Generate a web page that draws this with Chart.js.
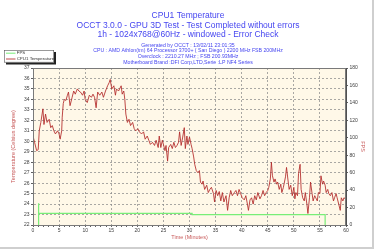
<!DOCTYPE html>
<html>
<head>
<meta charset="utf-8">
<script src="https://cdn.jsdelivr.net/npm/chart.js@4.4.0/dist/chart.umd.min.js"></script>
<style>
    html, body { margin: 0 ; padding: 0 ; background: #ffffff ; }
    #wrap { width: 375px ; height: 250px ; }
</style>
</head>
<body>
<div id="wrap"><canvas id="occtChart" width="375" height="250"></canvas></div>
<script>
// ---------------- Chart data ------------------------------------------------
const TITLE_LINES = [
    "CPU1 Temperature",
    "OCCT 3.0.0 - GPU 3D Test - Test Completed without errors",
    "1h - 1024x768@60Hz - windowed - Error Check"
] ;
const INFO_LINES = [
    "Generated by OCCT : 13/02/11 23:01:35",
    "CPU : AMD Athlon(tm) 64 Processor 3700+ ( San Diego ) 2200 MHz FSB 200MHz",
    "Overclock : 2210.27 MHz ; FSB 200.93MHz",
    "Motherboard Brand :DFI Corp,LTD,Serie :LP NF4 Series"
] ;
const SERIES_NAMES = [ "FPS", "CPU1 Temperature" ] ;

const tempTimes = [
    0, 0.3, 0.7, 1.0, 1.2, 1.5, 1.9, 2.1, 2.4, 2.7, 3.1, 3.4, 3.7, 4.0, 4.3, 4.7, 5.0, 5.2, 5.5, 5.6,
    5.8, 6.0, 6.3, 6.6, 6.8, 7.1, 7.5, 7.8, 8.1, 8.5, 8.8, 9.1, 9.5, 9.8, 10.0, 10.4, 10.8, 11.2, 11.5, 11.8,
    12.1, 12.4, 12.8, 13.2, 13.5, 13.9, 14.3, 14.6, 14.8, 15.1, 15.5, 15.8, 16.0, 16.4, 16.9, 17.1, 17.4, 17.6, 17.8, 18.1,
    18.4, 18.7, 19.1, 19.4, 19.7, 20.1, 20.4, 20.8, 21.2, 21.5, 21.9, 22.2, 22.5, 22.9, 23.3, 23.6, 24.0, 24.2, 24.5, 24.8,
    25.0, 25.3, 25.5, 25.8, 26.0, 26.4, 26.7, 27.0, 27.3, 27.6, 27.9, 28.1, 28.4, 28.7, 29.0, 29.2, 29.5, 29.7, 30.0, 30.3,
    30.5, 30.8, 31.0, 31.3, 31.6, 31.9, 32.1, 32.4, 32.6, 32.9, 33.3, 33.6, 33.9, 34.2, 34.6, 34.8, 35.1, 35.4, 35.7, 36.0,
    36.3, 36.6, 37.0, 37.3, 37.6, 37.9, 38.2, 38.6, 38.9, 39.2, 39.5, 39.8, 40.1, 40.5, 40.8, 41.1, 41.3, 41.6, 41.9, 42.2,
    42.5, 42.8, 43.1, 43.5, 43.8, 44.1, 44.4, 44.7, 45.0, 45.2, 45.5, 45.7, 45.9, 46.2, 46.4, 46.7, 46.9, 47.2, 47.5, 47.7,
    48.0, 48.4, 48.6, 48.9, 49.1, 49.4, 49.7, 50.0, 50.2, 50.4, 50.7, 50.9, 51.2, 51.4, 51.7, 52.0, 52.2, 52.5, 52.7, 53.0,
    53.2, 53.5, 53.7, 54.0, 54.2, 54.5, 54.7, 55.0, 55.2, 55.5, 55.7, 56.0, 56.2, 56.5, 56.7, 57.0, 57.3, 57.6, 57.8, 58.1,
    58.3, 58.6, 58.9, 59.1, 59.4, 59.6, 59.9
] ;
const tempValues = [
    30.5, 29.9, 29.1, 29.2, 31.0, 31.8, 33.1, 31.6, 32.6, 31.8, 32.1, 31.3, 31.5, 31.0, 30.7, 31.0, 30.7, 30.2, 31.0, 32.3,
    33.6, 34.0, 33.9, 34.4, 34.7, 33.4, 34.2, 34.8, 34.5, 35.0, 34.8, 34.7, 34.4, 34.8, 34.0, 33.7, 34.4, 34.2, 34.5, 34.2,
    33.2, 34.7, 34.4, 34.7, 34.2, 34.8, 35.3, 35.6, 35.9, 35.0, 35.3, 34.4, 35.0, 34.8, 35.3, 34.5, 34.8, 34.0, 32.6, 31.8,
    32.1, 31.5, 31.8, 31.2, 31.0, 31.2, 30.9, 30.7, 30.9, 30.2, 30.5, 30.1, 29.7, 29.9, 29.6, 30.1, 29.4, 30.5, 29.4, 30.1,
    29.7, 29.1, 29.6, 28.1, 29.4, 29.7, 29.3, 29.9, 29.4, 29.6, 29.9, 30.9, 29.6, 30.4, 31.3, 29.3, 30.5, 29.7, 30.4, 29.7,
    29.3, 28.5, 27.8, 27.2, 27.0, 27.2, 26.1, 25.9, 26.2, 25.4, 25.8, 25.1, 25.4, 25.6, 25.0, 24.2, 25.3, 24.8, 25.2, 24.3,
    25.1, 24.2, 24.8, 23.4, 24.6, 25.3, 24.8, 25.1, 25.3, 24.8, 25.4, 25.0, 24.6, 24.4, 24.8, 24.0, 23.4, 24.4, 24.6, 24.0,
    24.8, 24.4, 25.1, 24.5, 24.8, 25.3, 24.8, 25.1, 25.3, 25.6, 26.4, 28.0, 26.7, 26.1, 26.4, 25.9, 26.1, 25.4, 25.9, 25.1,
    25.6, 26.6, 27.5, 26.2, 25.4, 25.8, 24.8, 25.6, 24.5, 25.1, 24.8, 26.9, 27.8, 25.4, 24.6, 24.3, 25.1, 24.0, 23.1, 24.6,
    26.1, 25.0, 24.3, 24.8, 24.6, 24.3, 25.1, 25.0, 26.7, 25.9, 26.2, 25.8, 25.1, 25.4, 25.0, 24.8, 25.1, 24.3, 24.6, 25.0,
    24.6, 24.0, 23.4, 24.6, 24.3, 24.6, 24.5
] ;

const fpsTimes  = [ 1.0, 1.0, 1.15, 30.5, 30.5, 56.0, 56.0 ] ;
const fpsValues = [ 0, 25, 13.4, 13.4, 11.8, 11.8, 0 ] ;

// ---------------- Style constants -------------------------------------------
const BLUE     = '#4646f0' ;
const AXIS_RED = '#c85a5a' ;
const TICK_CLR = '#404040' ;
const GRID_CLR = 'rgba(140,140,140,0.75)' ;
const PLOT_BG  = '#fff8e8' ;
const TEMP_CLR = 'rgba(178,40,40,0.85)' ;
const FPS_CLR  = '#78ee78' ;
const FONT     = "'Liberation Sans', Arial, sans-serif" ;

function toPoints( xs, ys ) {
    var pts = [] ;
    for( var i=0; i<xs.length; i++ ) {
        pts.push( { x: xs[i], y: ys[i] } ) ;
    }
    return pts ;
}

// ---------------- Plugins ---------------------------------------------------
const plotBackground = {
    id: 'plotBackground',
    beforeDraw( chart ) {
        const { ctx, chartArea: a } = chart ;
        ctx.save() ;
        ctx.fillStyle = PLOT_BG ;
        ctx.fillRect( a.left, a.top, a.right - a.left, a.bottom - a.top ) ;
        ctx.restore() ;
    },
    afterDraw( chart ) {
        const { ctx, chartArea: a } = chart ;
        ctx.save() ;
        ctx.strokeStyle = '#7a7a7a' ;
        ctx.lineWidth = 1 ;
        ctx.strokeRect( a.left + 0.5, a.top + 0.5, a.right - a.left - 1, a.bottom - a.top ) ;

        // outer frame (right and bottom edges only)
        ctx.strokeStyle = '#cfcfcf' ;
        ctx.lineWidth = 2 ;
        ctx.beginPath() ;
        ctx.moveTo( 373, 0 ) ;
        ctx.lineTo( 373, 248 ) ;
        ctx.lineTo( 0, 248 ) ;
        ctx.stroke() ;
        ctx.restore() ;
    }
} ;

const headerText = {
    id: 'headerText',
    afterDraw( chart ) {
        const ctx = chart.ctx ;
        const cx = 188 ;
        ctx.save() ;
        ctx.fillStyle = BLUE ;
        ctx.textAlign = 'center' ;
        ctx.textBaseline = 'middle' ;

        ctx.font = "8.5px " + FONT ;
        const titleY = [ 16, 25.5, 35 ] ;
        TITLE_LINES.forEach( function( line, i ) { ctx.fillText( line, cx, titleY[i] ) ; } ) ;

        ctx.font = "5.2px " + FONT ;
        const infoY = [ 45.3, 51, 56.7, 62.3 ] ;
        INFO_LINES.forEach( function( line, i ) { ctx.fillText( line, cx, infoY[i] ) ; } ) ;

        // legend box with its shadow
        ctx.fillStyle = '#222222' ;
        ctx.fillRect( 6, 52, 50, 12.5 ) ;
        ctx.fillStyle = '#ffffff' ;
        ctx.fillRect( 4, 50, 50, 12.5 ) ;
        ctx.strokeStyle = '#555555' ;
        ctx.lineWidth = 0.6 ;
        ctx.strokeRect( 4.3, 50.3, 49.4, 11.9 ) ;

        const legendY = [ 53.2, 59 ] ;
        const legendClr = [ FPS_CLR, TEMP_CLR ] ;
        ctx.font = "4.4px " + FONT ;
        ctx.textAlign = 'left' ;
        SERIES_NAMES.forEach( function( name, i ) {
            ctx.strokeStyle = legendClr[i] ;
            ctx.lineWidth = 1 ;
            ctx.beginPath() ;
            ctx.moveTo( 6, legendY[i] ) ;
            ctx.lineTo( 15.5, legendY[i] ) ;
            ctx.stroke() ;
            ctx.fillStyle = '#333333' ;
            ctx.fillText( name, 16.7, legendY[i] ) ;
        } ) ;
        ctx.restore() ;
    }
} ;

// ---------------- Chart -----------------------------------------------------
function getScaleOptions() {
    return {
        x : {
            type: 'linear',
            min: 0,
            max: 60,
            afterFit: function( scale ) { scale.height = 23 ; },
            border: { color: '#505050', width: 1, dash: [ 2, 2 ] },
            grid: {
                color: function( c ) { return ( c.tick && c.tick.value % 5 === 0 ) ? GRID_CLR : 'rgba(0,0,0,0)' ; },
                tickColor: '#606060',
                tickLength: 2,
                lineWidth: 1
            },
            ticks: {
                stepSize: 1,
                autoSkip: false,
                maxRotation: 0,
                padding: 1,
                color: TICK_CLR,
                font: { family: FONT, size: 5 },
                callback: function( value ) { return value % 5 === 0 ? '' + value : '' ; }
            },
            title: {
                display: true,
                text: 'Time (Minutes)',
                color: AXIS_RED,
                font: { family: FONT, size: 5.5 },
                padding: { top: 0, bottom: 7.5 }
            }
        },
        y : {
            position: 'left',
            min: 22,
            max: 37,
            afterFit: function( scale ) { scale.width = 33 ; },
            border: { color: '#505050', width: 1, dash: [ 2, 2 ] },
            grid: { color: GRID_CLR, tickColor: '#606060', tickLength: 2, lineWidth: 1 },
            ticks: {
                stepSize: 1,
                padding: 1.5,
                color: TICK_CLR,
                font: { family: FONT, size: 5 }
            },
            title: {
                display: true,
                text: 'Temperature (Celsius degree)',
                color: AXIS_RED,
                font: { family: FONT, size: 5.5 },
                padding: { top: 10.5, bottom: 0 }
            }
        },
        y2 : {
            position: 'right',
            min: 0,
            max: 180,
            afterFit: function( scale ) { scale.width = 27 ; },
            border: { color: '#505050', width: 1 },
            grid: { drawOnChartArea: false, tickColor: '#606060', tickLength: 2 },
            ticks: {
                stepSize: 10,
                padding: 1.5,
                color: TICK_CLR,
                font: { family: FONT, size: 5 }
            },
            title: {
                display: true,
                text: 'FPS',
                color: AXIS_RED,
                font: { family: FONT, size: 5.5 },
                padding: { top: 7.5, bottom: 0 }
            }
        }
    } ;
}

new Chart( document.getElementById( 'occtChart' ), {
    type: 'line',
    data: {
        datasets: [
            {
                label: SERIES_NAMES[0],
                data: toPoints( fpsTimes, fpsValues ),
                yAxisID: 'y2',
                borderColor: FPS_CLR,
                borderWidth: 1.2,
                pointRadius: 0,
                tension: 0
            },
            {
                label: SERIES_NAMES[1],
                data: toPoints( tempTimes, tempValues ),
                yAxisID: 'y',
                borderColor: TEMP_CLR,
                borderWidth: 1,
                pointRadius: 0,
                tension: 0
            }
        ]
    },
    options: {
        responsive: false,
        animation: false,
        layout: { padding: { top: 68, left: 0, right: 2, bottom: 2 } },
        plugins: {
            legend: { display: false },
            title: { display: false },
            tooltip: { enabled: false }
        },
        scales: getScaleOptions()
    },
    plugins: [ plotBackground, headerText ]
} ) ;
</script>
</body>
</html>
